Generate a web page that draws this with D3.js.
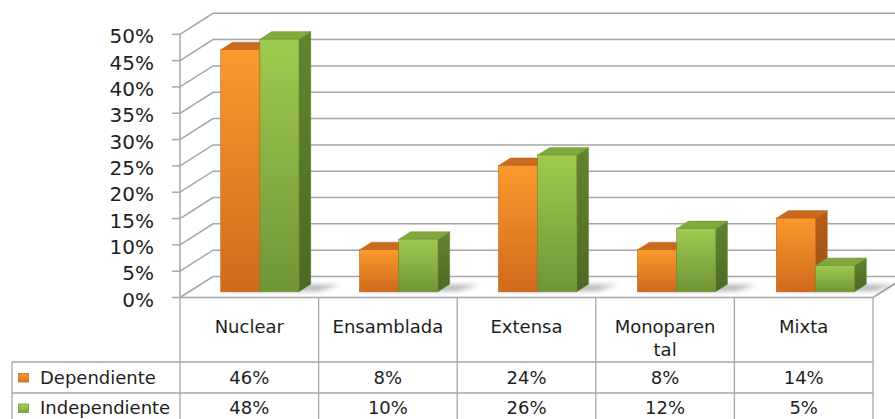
<!DOCTYPE html>
<html>
<head>
<meta charset="utf-8">
<script src="https://cdn.jsdelivr.net/npm/d3@7/dist/d3.min.js"></script>
<style>
  html, body { margin: 0; padding: 0; background: #fff; }
  svg { display: block; font-family: "DejaVu Sans", Verdana, sans-serif; }
</style>
</head>
<body>
<svg id="chart" width="895" height="419"></svg>
<script>
// ---- data ----
const categories = ["Nuclear", "Ensamblada", "Extensa", "Monoparental", "Mixta"];
const headerLines = [["Nuclear"], ["Ensamblada"], ["Extensa"], ["Monoparen", "tal"], ["Mixta"]];
const seriesNames = ["Dependiente", "Independiente"];
const dependiente = [0.46, 0.08, 0.24, 0.08, 0.14];
const independiente = [0.48, 0.10, 0.26, 0.12, 0.05];
const yTicks = [0, 0.05, 0.10, 0.15, 0.20, 0.25, 0.30, 0.35, 0.40, 0.45, 0.50];

const seriesValues = [dependiente, independiente];

// ---- layout ----
const W = 895, H = 419;
const plotLeft = 180, plotRight = 873;
const depthDX = 33, depthDY = -21;      // oblique offset of the full floor depth
const barD0 = 0.27, barD1 = 0.63;       // bar position inside the depth

const svg = d3.select("#chart");
const defs = svg.append("defs");

const y = d3.scaleLinear().domain([0, 0.5]).range([297.5, 34.3]);
const xGroup = d3.scaleBand().domain(categories).range([plotLeft + 1.5, plotRight + 3])
  .paddingInner(0.437).paddingOuter(0.2185);
const xSeries = d3.scaleBand().domain(seriesNames).range([0, xGroup.bandwidth()]);
const xCol = d3.scaleBand().domain(categories).range([plotLeft, plotRight]);

// projection of (screen x at front, value, depth fraction) into the oblique view
const P = (x, v, d) => [x + d * depthDX, y(v) + d * depthDY];

// ---- gradients ----
function vGrad(id, c0, c1) {
  const g = defs.append("linearGradient").attr("id", id)
    .attr("x1", 0).attr("y1", 0).attr("x2", 0).attr("y2", 1);
  g.append("stop").attr("offset", "0%").attr("stop-color", c0);
  g.append("stop").attr("offset", "100%").attr("stop-color", c1);
}
vGrad("gFrontO", "#FA9A2C", "#D0691D");
vGrad("gFrontG", "#A0CA4E", "#6F9536");
vGrad("gSideO", "#B95F18", "#9A4C12");
vGrad("gSideG", "#62852F", "#4C6923");
vGrad("gLegO", "#F59A3A", "#D9741E");
vGrad("gLegG", "#A5CC58", "#7FA83C");

const styles = [
  { front: "url(#gFrontO)", side: "url(#gSideO)", top: "#C96A1E", edge: "#B8601C", legend: "url(#gLegO)", legendStroke: "#C8691F" },
  { front: "url(#gFrontG)", side: "url(#gSideG)", top: "#80A83C", edge: "#6A9130", legend: "url(#gLegG)", legendStroke: "#6F9A34" }
];

const blur = defs.append("filter").attr("id", "soft")
  .attr("x", "-30%").attr("y", "-100%").attr("width", "160%").attr("height", "300%");
blur.append("feGaussianBlur").attr("stdDeviation", 2.6);

// ---- walls: gridlines on the back wall and the side wall ----
const gridColor = "#A6A6A6";
const grid = svg.append("g");
grid.selectAll("path.grid").data(yTicks).join("path")
  .attr("class", "grid")
  .attr("fill", "none")
  .attr("stroke", gridColor)
  .attr("stroke-width", 1.5)
  .attr("d", v => {
    const a = P(plotLeft, v, 0), b = P(plotLeft, v, 1);
    return `M${a[0]},${a[1]}L${b[0]},${b[1]}L${W + 5},${b[1]}`;
  });

// front vertical axis and tick marks
svg.append("line")
  .attr("x1", plotLeft).attr("x2", plotLeft)
  .attr("y1", y(0.5)).attr("y2", y(0))
  .attr("stroke", gridColor).attr("stroke-width", 1.5);
svg.selectAll("line.tick").data(yTicks).join("line")
  .attr("class", "tick")
  .attr("x1", plotLeft - 8).attr("x2", plotLeft)
  .attr("y1", d => y(d)).attr("y2", d => y(d))
  .attr("stroke", gridColor).attr("stroke-width", 1.5);

// y tick labels
svg.selectAll("text.ylab").data(yTicks).join("text")
  .attr("class", "ylab")
  .attr("x", 154)
  .attr("y", d => y(d) + 2)
  .attr("dy", "0.35em")
  .attr("text-anchor", "end")
  .attr("font-size", 20)
  .attr("fill", "#1e1e1e")
  .text(d => d3.format(".0%")(d));

// floor right edge
{
  const a = P(plotRight, 0, 0), b = P(plotRight, 0, 1);
  svg.append("line").attr("x1", a[0]).attr("y1", a[1]).attr("x2", b[0]).attr("y2", b[1])
    .attr("stroke", gridColor).attr("stroke-width", 1.5);
}

// ---- bars ----
const barsData = [];
categories.forEach((c, i) => {
  seriesNames.forEach((s, k) => {
    const x0 = xGroup(c) + xSeries(s);
    barsData.push({ c, s, k, v: seriesValues[k][i], x0, x1: x0 + xSeries.bandwidth() });
  });
});

// soft shadows cast on the floor
const shadowG = svg.append("g").attr("filter", "url(#soft)");
categories.forEach(c => {
  const xl = xGroup(c) - 2, xr = xGroup(c) + xGroup.bandwidth() + 18;
  const p = [P(xl, 0, barD0 + 0.05), P(xr, 0, barD0 + 0.05), P(xr + 12, 0, barD1 - 0.03), P(xl + 10, 0, barD1 - 0.03)];
  shadowG.append("polygon")
    .attr("points", p.map(q => q.join(",")).join(" "))
    .attr("fill", "#000").attr("opacity", 0.32);
});

const barG = svg.append("g");
barsData.forEach(b => {
  const st = styles[b.k];
  const g = barG.append("g");
  const fTL = P(b.x0, b.v, barD0), fTR = P(b.x1, b.v, barD0), fBR = P(b.x1, 0, barD0);
  const bTL = P(b.x0, b.v, barD1), bTR = P(b.x1, b.v, barD1), bBR = P(b.x1, 0, barD1);
  // right side face
  g.append("polygon")
    .attr("points", [fTR, bTR, bBR, fBR].map(q => q.join(",")).join(" "))
    .attr("fill", st.side).attr("stroke", st.edge).attr("stroke-width", 0.4);
  // top face
  g.append("polygon")
    .attr("points", [fTL, bTL, bTR, fTR].map(q => q.join(",")).join(" "))
    .attr("fill", st.top).attr("stroke", st.edge).attr("stroke-width", 0.4);
  // front face
  g.append("rect")
    .attr("x", fTL[0]).attr("y", fTL[1])
    .attr("width", fTR[0] - fTL[0]).attr("height", fBR[1] - fTR[1])
    .attr("fill", st.front).attr("stroke", st.edge).attr("stroke-width", 0.6);
});

// ---- data table ----
const tableColor = "#A6A6A6";
const rowTop = [297.5, 362, 393, 424];
const legendLeft = 12;
const tbl = svg.append("g").attr("stroke", tableColor).attr("stroke-width", 1.3);

// horizontal rules
tbl.append("line").attr("x1", plotLeft).attr("x2", plotRight).attr("y1", rowTop[0]).attr("y2", rowTop[0]);
[rowTop[1], rowTop[2]].forEach(yy => {
  tbl.append("line").attr("x1", legendLeft).attr("x2", plotRight).attr("y1", yy).attr("y2", yy);
});
// vertical rules
const colEdges = categories.map(c => xCol(c)).concat([plotRight]);
tbl.selectAll("line.col").data(colEdges).join("line")
  .attr("class", "col")
  .attr("x1", d => d).attr("x2", d => d)
  .attr("y1", rowTop[0]).attr("y2", H + 2);
tbl.append("line").attr("x1", legendLeft).attr("x2", legendLeft).attr("y1", rowTop[1]).attr("y2", H + 2);

const textColor = "#1e1e1e";
// header labels
categories.forEach((c, i) => {
  const cx = xCol(c) + xCol.bandwidth() / 2;
  headerLines[i].forEach((line, j) => {
    svg.append("text")
      .attr("x", cx).attr("y", 327 + j * 23)
      .attr("dy", "0.35em")
      .attr("text-anchor", "middle")
      .attr("font-size", 18)
      .attr("fill", textColor)
      .text(line);
  });
});

// value rows
const rowCenters = [377.5, 408];
seriesValues.forEach((vals, k) => {
  svg.selectAll(null).data(vals).join("text")
    .attr("x", (d, i) => xCol(categories[i]) + xCol.bandwidth() / 2)
    .attr("y", rowCenters[k])
    .attr("dy", "0.35em")
    .attr("text-anchor", "middle")
    .attr("font-size", 18)
    .attr("fill", textColor)
    .text(d => d3.format(".0%")(d));
});

// legend keys inside the table
seriesNames.forEach((s, k) => {
  svg.append("rect")
    .attr("x", 18.5).attr("y", rowCenters[k] - 4)
    .attr("width", 10).attr("height", 8.5)
    .attr("fill", styles[k].legend)
    .attr("stroke", styles[k].legendStroke).attr("stroke-width", 0.8);
  svg.append("text")
    .attr("x", 40).attr("y", rowCenters[k])
    .attr("dy", "0.35em")
    .attr("font-size", 18)
    .attr("fill", textColor)
    .text(s);
});
</script>
</body>
</html>
